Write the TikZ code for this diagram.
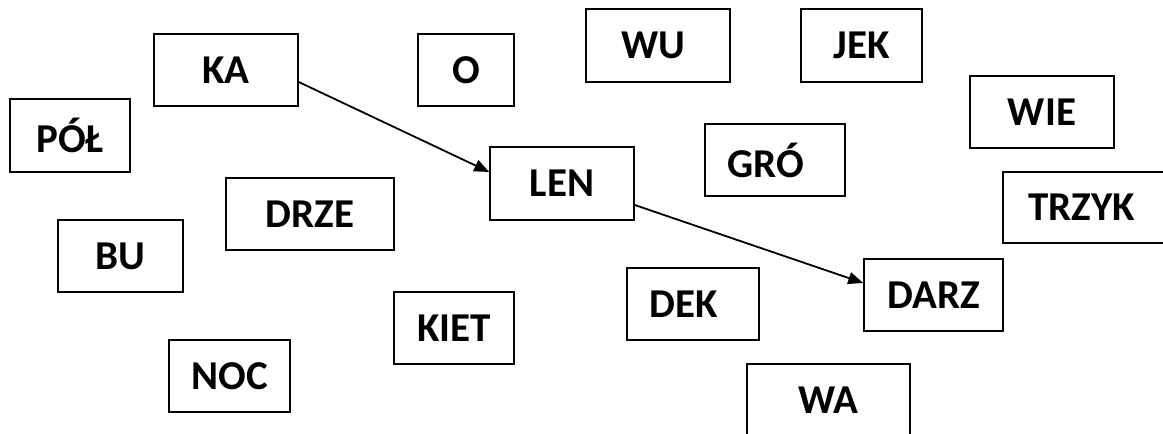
\documentclass[tikz,border=0pt]{standalone}
\usepackage{fontspec}
\setmainfont{Carlito}
\usetikzlibrary{arrows.meta}
\tikzset{
  wbox/.style={draw=black, line width=1.5pt, inner sep=0pt, fill=white,
    font=\fontsize{41}{41}\selectfont\bfseries, text=black},
  arr/.style={draw=black, line width=1.8pt, -{Triangle[length=15pt,width=12pt]}}
}
\begin{document}
\begin{tikzpicture}[x=1pt,y=-1pt]
\useasboundingbox (0,0) rectangle (1163,434);
\fill[white] (0,0) rectangle (1163,434);
\node[wbox, minimum width=144pt, minimum height=72pt] (KA)    at (226,70)      {KA};
\node[wbox, minimum width=96pt,  minimum height=72pt] (O)     at (466,70)      {O};
\node[wbox, minimum width=144pt, minimum height=73pt] (WU)    at (658,45.5)    {\hspace*{-10pt}WU};
\node[wbox, minimum width=121pt, minimum height=73pt] (JEK)   at (861.5,45.5)  {JEK};
\node[wbox, minimum width=120pt, minimum height=73pt] (POL)   at (70,135.5)    {PÓŁ};
\node[wbox, minimum width=144pt, minimum height=72pt] (WIE)   at (1042,112)    {WIE};
\node[wbox, minimum width=140pt, minimum height=72pt] (GRO)   at (775,160)     {\hspace*{-18pt}GRÓ};
\node[wbox, minimum width=144pt, minimum height=73pt] (LEN)   at (562,183.5)   {LEN};
\node[wbox, minimum width=168pt, minimum height=72pt] (DRZE)  at (310,214)     {DRZE};
\node[wbox, minimum width=163pt, minimum height=71pt] (TRZYK) at (1084.5,207.5){\hspace*{-6pt}TRZYK};
\node[wbox, minimum width=125pt, minimum height=72pt] (BU)    at (120.5,256)   {BU};
\node[wbox, minimum width=132pt, minimum height=72pt] (DEK)   at (693,304)     {\hspace*{-18pt}DEK};
\node[wbox, minimum width=139pt, minimum height=72pt] (DARZ)  at (933.5,295)   {DARZ};
\node[wbox, minimum width=120pt, minimum height=72pt] (KIET)  at (454,328)     {KIET};
\node[wbox, minimum width=121pt, minimum height=72pt] (NOC)   at (229.5,376)   {NOC};
\node[wbox, minimum width=163pt, minimum height=72pt] (WA)    at (828.5,400)   {WA};
\draw[arr] ([yshift=-12pt]KA.east) -- ([yshift=11.5pt]LEN.west);
\draw[arr] ([yshift=-21.5pt]LEN.east) -- ([yshift=12pt]DARZ.west);
\end{tikzpicture}
\end{document}
